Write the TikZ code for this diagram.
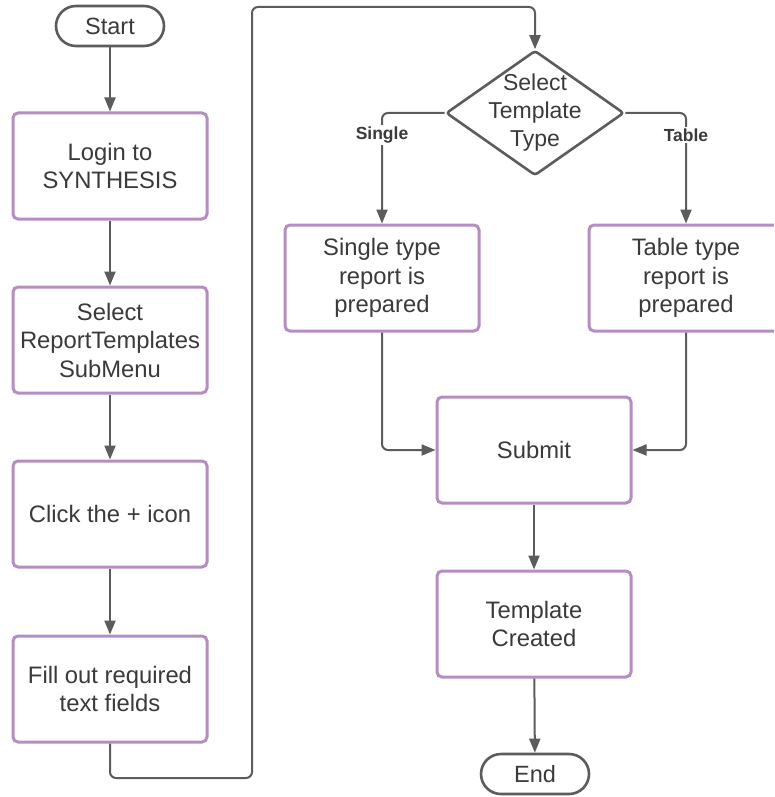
\documentclass[tikz,border=0pt]{standalone}
\usepackage{fontspec}
\setmainfont{Liberation Sans}
\usetikzlibrary{arrows.meta,shapes.geometric}
\definecolor{linegray}{RGB}{92,92,92}
\definecolor{boxpurple}{RGB}{180,142,192}
\definecolor{txtgray}{RGB}{58,58,58}
\tikzset{
  flowline/.style={draw=linegray, line width=2pt, rounded corners=6pt},
  arr/.style={flowline, -{Triangle[length=14pt,width=11pt]}},
  stepbox/.style={draw=boxpurple, line width=3pt, rounded corners=5pt,
    minimum width=194pt, minimum height=106pt, align=center, text=txtgray,
    font=\fontsize{23.8}{28.5}\selectfont, inner sep=0pt},
  terminal/.style={draw=linegray, line width=2.6pt, rounded corners=20pt,
    minimum width=108pt, minimum height=40pt, text=txtgray,
    font=\fontsize{23.5}{28}\selectfont, inner sep=0pt},
  decision/.style={diamond, draw=linegray, line width=2.6pt, rounded corners=3pt,
    minimum width=178pt, minimum height=125pt, inner sep=0pt},
  branchlbl/.style={fill=white, text=txtgray, font=\bfseries\fontsize{17.5}{21}\selectfont,
    inner sep=2pt}
}
\begin{document}
\begin{tikzpicture}[x=1pt,y=-1pt]
\useasboundingbox[fill=white] (0,0) rectangle (774,797);
\clip (0,0) rectangle (774,797);

% left column
\node[terminal] (start) at (110,26) {Start};
\node[stepbox] (login) at (110,166) {Login to\\SYNTHESIS};
\node[stepbox] (menu) at (110,340) {Select\\ReportTemplates\\SubMenu};
\node[stepbox] (click) at (110,514) {Click the + icon};
\node[stepbox] (fill) at (110,689) {Fill out required\\text fields};

% right column
\node[decision, label={[text=txtgray, align=center, font=\fontsize{23}{28}\selectfont]center:Select\\Template\\Type}] (dia) at (535,113) {};
\node[stepbox] (single) at (382,278) {Single type\\report is\\prepared};
\node[stepbox] (table) at (686,278) {Table type\\report is\\prepared};
\node[stepbox] (submit) at (534,450) {Submit};
\node[stepbox] (created) at (534,624) {Template\\Created};
\node[terminal] (end) at (535,774) {End};

% loop-over connector
\coordinate (loopL) at (252,778);
\coordinate (loopT) at (252,7);

\draw[arr] (start) -- (login);
\draw[arr] (login) -- (menu);
\draw[arr] (menu) -- (click);
\draw[arr] (click) -- (fill);
\draw[arr] (fill.south) |- (loopL) -- (loopT) -| (dia.north);

\draw[arr] (dia.west) -| (single.north);
\draw[arr] (dia.east) -| (table.north);
\node[branchlbl] (lsingle) at (382,135) {Single};
\node[branchlbl] (ltable) at (686,135) {Table};

\draw[arr] (single.south) |- (submit.west);
\draw[arr] (table.south) |- (submit.east);
\draw[arr] (submit) -- (created);
\draw[arr] (created) -- (end);
\end{tikzpicture}
\end{document}
